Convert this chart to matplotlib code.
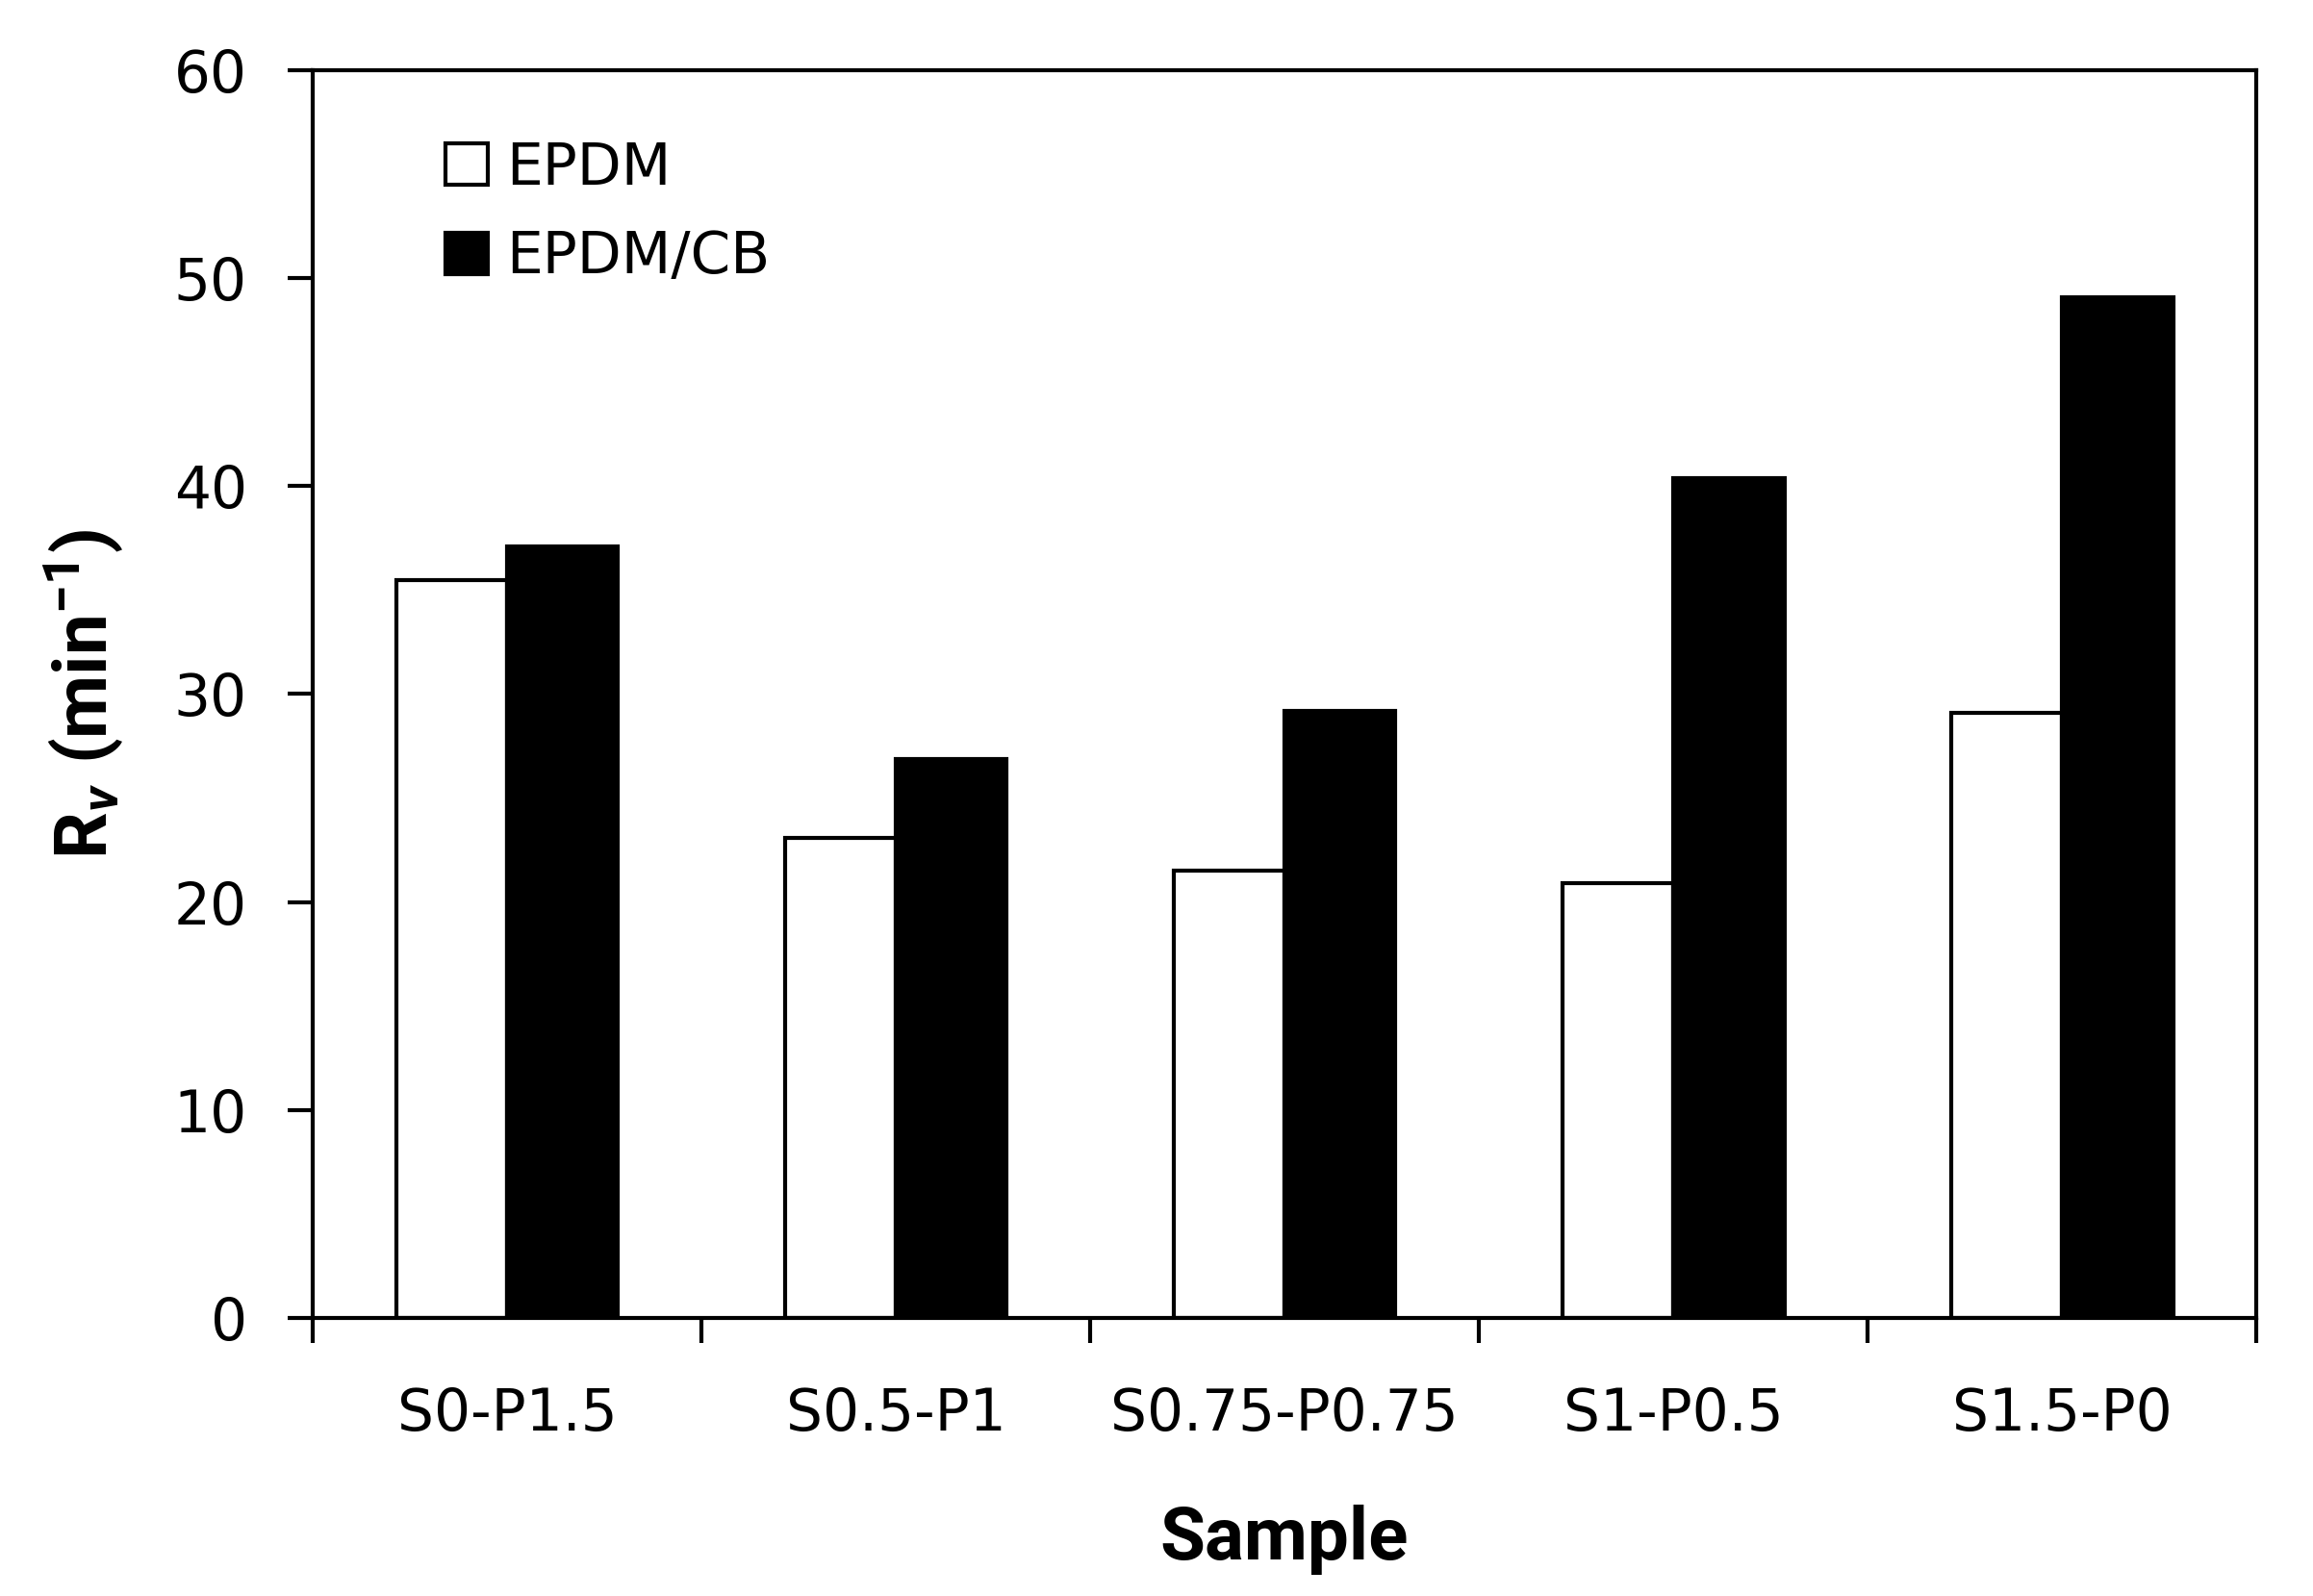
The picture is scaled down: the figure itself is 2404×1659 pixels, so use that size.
import numpy as np
import matplotlib
matplotlib.use('Agg')
import matplotlib.pyplot as plt

# data
samples = ['S0-P1.5', 'S0.5-P1', 'S0.75-P0.75', 'S1-P0.5', 'S1.5-P0']
rv_epdm = [35.5, 23.1, 21.5, 20.9, 29.1]
rv_epdm_cb = [37.1, 26.9, 29.2, 40.4, 49.1]
y_ticks = [0, 10, 20, 30, 40, 50, 60]

plt.rcParams['font.family'] = ['DejaVu Sans']
plt.rcParams['mathtext.fontset'] = 'custom'
plt.rcParams['mathtext.rm'] = 'Roboto:bold'
plt.rcParams['mathtext.it'] = 'Roboto:bold:italic'
plt.rcParams['mathtext.bf'] = 'Roboto:bold'

fig = plt.figure(figsize=(24.04, 16.59), dpi=100)
ax = fig.add_axes([0.1352, 0.1742, 0.8403, 0.7818])

x = np.arange(len(samples))
w = 0.2857
ax.bar(x - w / 2, rv_epdm, w, color='white', edgecolor='black', linewidth=3, label='EPDM', zorder=2)
ax.bar(x + w / 2, rv_epdm_cb, w, color='black', edgecolor='black', linewidth=3, label='EPDM/CB', zorder=2)

ax.set_xlim(-0.5, len(samples) - 0.5)
ax.set_ylim(0, 60)
ax.set_yticks(y_ticks)

# labels at centres, tick marks between the categories
ax.set_xticks(x)
ax.set_xticklabels(samples)
ax.set_xticks(np.arange(len(samples) + 1) - 0.5, minor=True)
ax.tick_params(axis='x', which='major', length=0, pad=51, labelsize=43)
ax.tick_params(axis='x', which='minor', length=19, width=3, direction='out')
ax.tick_params(axis='y', length=19, width=3, direction='out', pad=30, labelsize=43)

for s in ax.spines.values():
    s.set_linewidth(3)

ax.set_xlabel('Sample', fontsize=55, fontweight='bold', family='Roboto', labelpad=46)
ax.set_ylabel(r'$\mathrm{R_{\mathit{v}}\ (min^{-1})}$', fontsize=55, va='center')
ax.yaxis.set_label_coords((87 - 325) / 2020, 0.5)

ax.legend(loc='upper left', bbox_to_anchor=(0.0684, 0.944), frameon=False,
          fontsize=43, handlelength=0.73, handleheight=0.73, handletextpad=0.33,
          labelspacing=0.56, borderpad=0, borderaxespad=0)

fig.savefig('out.png', dpi=100)
